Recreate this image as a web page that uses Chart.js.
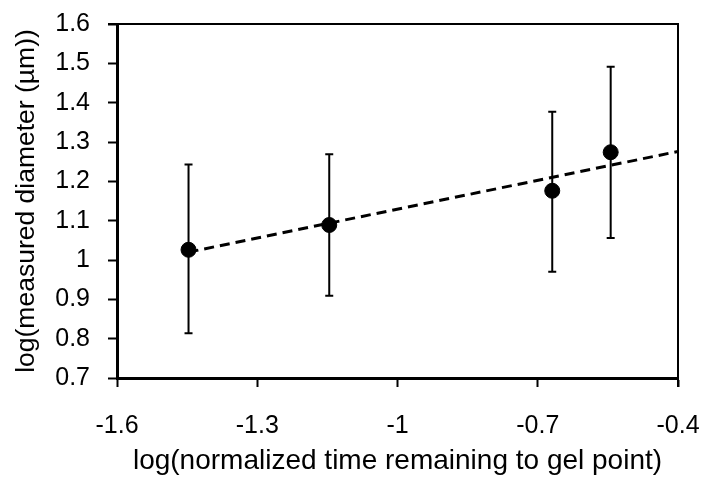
<!DOCTYPE html>
<html>
<head>
<meta charset="utf-8">
<script src="https://cdn.jsdelivr.net/npm/chart.js@4/dist/chart.umd.min.js"></script>
<style>
  html, body { margin: 0; padding: 0; background: #fff; }
  #wrap { width: 702px; height: 477px; }
</style>
</head>
<body>
<div id="wrap"><canvas id="chart" width="702" height="477"></canvas></div>
<script>
// measured points (log-log)
const xValues = [-1.447, -1.146, -0.669, -0.544];
const yValues = [1.026, 1.089, 1.176, 1.274];
const yErrLow = [0.814, 0.909, 0.970, 1.056];
const yErrHigh = [1.243, 1.269, 1.377, 1.491];

// fitted power-law line
const trendX = [-1.447, -0.4];
const trendY = [1.020, 1.276];

const xTicks = [-1.6, -1.3, -1, -0.7, -0.4];
const yTicks = [0.7, 0.8, 0.9, 1, 1.1, 1.2, 1.3, 1.4, 1.5, 1.6];

const xTitle = 'log(normalized time remaining to gel point)';
const yTitle = 'log(measured diameter (\u00b5m))';

const FONT = '"Liberation Sans", Arial, sans-serif';

const errorBars = {
  id: 'errorBars',
  beforeDatasetsDraw(chart) {
    const { ctx, scales: { x, y } } = chart;
    ctx.save();
    ctx.strokeStyle = '#000';
    ctx.lineWidth = 2;
    xValues.forEach((xv, i) => {
      const px = x.getPixelForValue(xv);
      const top = y.getPixelForValue(yErrHigh[i]);
      const bot = y.getPixelForValue(yErrLow[i]);
      ctx.beginPath();
      ctx.moveTo(px, top);
      ctx.lineTo(px, bot);
      ctx.moveTo(px - 4, top);
      ctx.lineTo(px + 4, top);
      ctx.moveTo(px - 4, bot);
      ctx.lineTo(px + 4, bot);
      ctx.stroke();
    });
    ctx.restore();
  }
};

// top and right sides of the plot box
const frame = {
  id: 'frame',
  afterDraw(chart) {
    const { ctx, chartArea: a } = chart;
    ctx.save();
    ctx.strokeStyle = '#000';
    ctx.lineWidth = 2;
    ctx.beginPath();
    ctx.moveTo(a.left - 9, a.top);
    ctx.lineTo(a.right, a.top);
    ctx.lineTo(a.right, a.bottom + 9);
    ctx.stroke();
    ctx.restore();
  }
};

const fmt = v => String(Math.round(v * 10) / 10);

new Chart(document.getElementById('chart'), {
  type: 'scatter',
  data: {
    datasets: [
      {
        label: 'data',
        data: xValues.map((x, i) => ({ x, y: yValues[i] })),
        backgroundColor: '#000',
        borderColor: '#000',
        pointRadius: 7.5,
        pointHoverRadius: 7.5,
        order: 1
      },
      {
        type: 'line',
        label: 'fit',
        data: trendX.map((x, i) => ({ x, y: trendY[i] })),
        borderColor: '#000',
        borderWidth: 3,
        borderDash: [10, 6],
        pointRadius: 0,
        fill: false,
        order: 2
      }
    ]
  },
  options: {
    responsive: false,
    animation: false,
    events: [],
    layout: { padding: { top: 24, right: 24, left: 0, bottom: 0 } },
    plugins: {
      legend: { display: false },
      tooltip: { enabled: false }
    },
    scales: {
      x: {
        type: 'linear',
        min: -1.6,
        max: -0.4,
        afterFit: s => {
          s.height = 99;
          s.paddingLeft = 0;
          s.paddingRight = 0;
        },
        afterBuildTicks: s => { s.ticks = xTicks.map(value => ({ value })); },
        ticks: {
          color: '#000',
          font: { family: FONT, size: 25 },
          padding: 24,
          maxRotation: 0,
          callback: fmt
        },
        grid: { drawOnChartArea: false, tickLength: 9, tickWidth: 2, tickColor: '#000' },
        border: { color: '#000', width: 3 },
        title: {
          display: true,
          text: xTitle,
          color: '#000',
          font: { family: FONT, size: 28, lineHeight: 1 },
          padding: { top: 0, bottom: 2 }
        }
      },
      y: {
        type: 'linear',
        min: 0.7,
        max: 1.6,
        afterFit: s => {
          s.width = 117;
          s.paddingTop = 0;
          s.paddingBottom = 0;
        },
        afterBuildTicks: s => { s.ticks = yTicks.map(value => ({ value })); },
        ticks: {
          color: '#000',
          font: { family: FONT, size: 25 },
          padding: 18,
          callback: fmt
        },
        grid: { drawOnChartArea: false, tickLength: 9, tickWidth: 2, tickColor: '#000' },
        border: { color: '#000', width: 3 },
        title: {
          display: true,
          text: yTitle,
          color: '#000',
          font: { family: FONT, size: 26.5, lineHeight: 1 },
          padding: { top: 13, bottom: 0 }
        }
      }
    }
  },
  plugins: [errorBars, frame]
});
</script>
</body>
</html>
